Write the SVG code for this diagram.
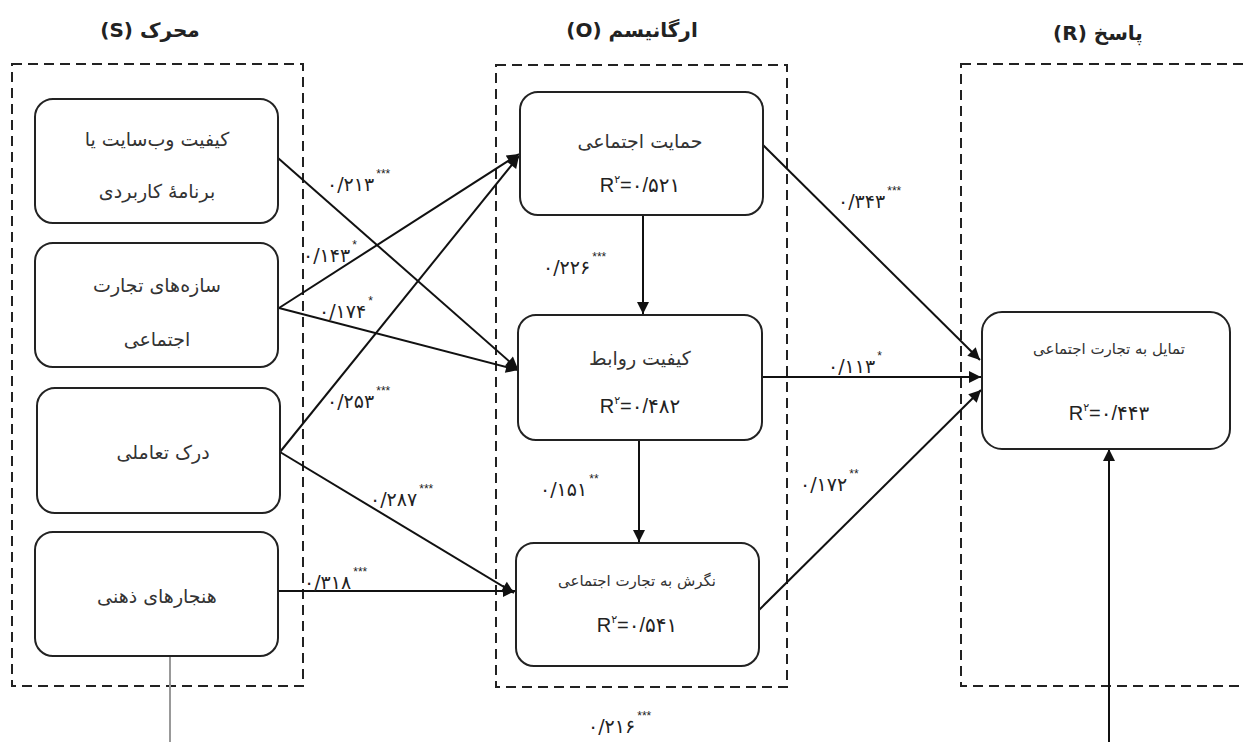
<svg xmlns="http://www.w3.org/2000/svg" width="1243" height="742" viewBox="0 0 1243 742">
<style>
.bg{fill:#fff}
.grp{fill:none;stroke:#222;stroke-width:2;stroke-dasharray:10 6}
.node{fill:#fff;stroke:#222;stroke-width:2}
.fa{font-family:"DejaVu Sans","Noto Sans",sans-serif;fill:#333;text-anchor:middle}
.lbl{font-size:19px}
.sm{font-size:15px}
.hdr{font-family:"DejaVu Sans","Noto Sans",sans-serif;font-size:20px;font-weight:bold;fill:#222;text-anchor:middle}
.r2{font-family:"Liberation Sans","DejaVu Sans",sans-serif;font-size:20px;fill:#222;text-anchor:middle}
.coef{font-family:"DejaVu Sans",sans-serif;font-size:19px;fill:#222}
.star{font-family:"Liberation Sans",sans-serif;font-size:12px}
.edge{fill:none;stroke:#111;stroke-width:2;marker-end:url(#ah)}
</style>
<defs>
<marker id="ah" viewBox="0 0 10 10" refX="10" refY="5" markerWidth="7" markerHeight="6" orient="auto" markerUnits="strokeWidth">
<path d="M0,0 L10,5 L0,10 z" fill="#111"/>
</marker>
</defs>
<rect class="bg" x="0" y="0" width="1243" height="742"/>

<g id="headers">
<text class="hdr" x="150" y="37">(S) محرک</text>
<text class="hdr" x="632" y="37">(O) ارگانیسم</text>
<text class="hdr" x="1098" y="40">(R) پاسخ</text>
</g>

<g id="groups">
<rect class="grp" x="12" y="64" width="291" height="622"/>
<rect class="grp" x="496" y="65" width="291" height="622"/>
<rect class="grp" x="961" y="64" width="300" height="622"/>
</g>

<g id="connectors">
<line class="edge" x1="278" y1="158" x2="518" y2="369"/>
<line class="edge" x1="279" y1="308" x2="519" y2="154"/>
<line class="edge" x1="279" y1="308" x2="518" y2="370"/>
<line class="edge" x1="280" y1="452" x2="519" y2="156"/>
<line class="edge" x1="280" y1="452" x2="514" y2="593"/>
<line class="edge" x1="278" y1="591" x2="515" y2="591"/>
<line class="edge" x1="643" y1="215" x2="643" y2="314"/>
<line class="edge" x1="639" y1="440" x2="639" y2="542"/>
<line class="edge" x1="763" y1="145" x2="980" y2="360"/>
<line class="edge" x1="762" y1="377" x2="981" y2="377"/>
<line class="edge" x1="759" y1="610" x2="981" y2="390"/>
<line x1="170" y1="656" x2="170" y2="742" stroke="#999" stroke-width="2"/>
<line class="edge" x1="1109" y1="742" x2="1109" y2="449"/>
</g>

<g id="coefs">
<text class="coef" x="327" y="191">۰/۲۱۳<tspan class="star" dx="2" dy="-13">***</tspan></text>
<text class="coef" x="303" y="262">۰/۱۴۳<tspan class="star" dx="2" dy="-13">*</tspan></text>
<text class="coef" x="319" y="318">۰/۱۷۴<tspan class="star" dx="2" dy="-13">*</tspan></text>
<text class="coef" x="327" y="408">۰/۲۵۳<tspan class="star" dx="2" dy="-13">***</tspan></text>
<text class="coef" x="370" y="506">۰/۲۸۷<tspan class="star" dx="2" dy="-13">***</tspan></text>
<text class="coef" x="304" y="589">۰/۳۱۸<tspan class="star" dx="2" dy="-13">***</tspan></text>
<text class="coef" x="543" y="274">۰/۲۲۶<tspan class="star" dx="2" dy="-13">***</tspan></text>
<text class="coef" x="540" y="496">۰/۱۵۱<tspan class="star" dx="2" dy="-13">**</tspan></text>
<text class="coef" x="838" y="208">۰/۳۴۳<tspan class="star" dx="2" dy="-13">***</tspan></text>
<text class="coef" x="828" y="373">۰/۱۱۳<tspan class="star" dx="2" dy="-13">*</tspan></text>
<text class="coef" x="800" y="491">۰/۱۷۲<tspan class="star" dx="2" dy="-13">**</tspan></text>
<text class="coef" x="588" y="733">۰/۲۱۶<tspan class="star" dx="2" dy="-13">***</tspan></text>
</g>

<g id="n_website">
<rect class="node" x="35" y="99" width="243" height="124" rx="18"/>
<text class="fa lbl" x="157" y="146">کیفیت وب‌سایت یا</text>
<text class="fa lbl" x="157" y="198">برنامهٔ کاربردی</text>
</g>
<g id="n_constructs">
<rect class="node" x="35" y="243" width="243" height="124" rx="18"/>
<text class="fa lbl" x="157" y="292">سازه‌های تجارت</text>
<text class="fa lbl" x="157" y="346">اجتماعی</text>
</g>
<g id="n_interaction">
<rect class="node" x="37" y="388" width="243" height="125" rx="18"/>
<text class="fa lbl" x="163" y="459">درک تعاملی</text>
</g>
<g id="n_norms">
<rect class="node" x="35" y="532" width="243" height="124" rx="18"/>
<text class="fa lbl" x="157" y="603">هنجارهای ذهنی</text>
</g>

<g id="n_support">
<rect class="node" x="520" y="92" width="243" height="123" rx="18"/>
<text class="fa lbl" x="640" y="148">حمایت اجتماعی</text>
<text class="r2" x="640" y="192">R<tspan font-size="11" dy="-9">۲</tspan><tspan dy="9">=۰/۵۲۱</tspan></text>
</g>
<g id="n_relation">
<rect class="node" x="518" y="315" width="244" height="125" rx="18"/>
<text class="fa lbl" x="640" y="365">کیفیت روابط</text>
<text class="r2" x="640" y="413">R<tspan font-size="11" dy="-9">۲</tspan><tspan dy="9">=۰/۴۸۲</tspan></text>
</g>
<g id="n_attitude">
<rect class="node" x="516" y="543" width="243" height="123" rx="18"/>
<text class="fa sm" x="637" y="586">نگرش به تجارت اجتماعی</text>
<text class="r2" x="637" y="632">R<tspan font-size="11" dy="-9">۲</tspan><tspan dy="9">=۰/۵۴۱</tspan></text>
</g>

<g id="n_intention">
<rect class="node" x="982" y="312" width="248" height="137" rx="20"/>
<text class="fa sm" x="1109" y="354">تمایل به تجارت اجتماعی</text>
<text class="r2" x="1109" y="420">R<tspan font-size="11" dy="-9">۲</tspan><tspan dy="9">=۰/۴۴۳</tspan></text>
</g>
</svg>
